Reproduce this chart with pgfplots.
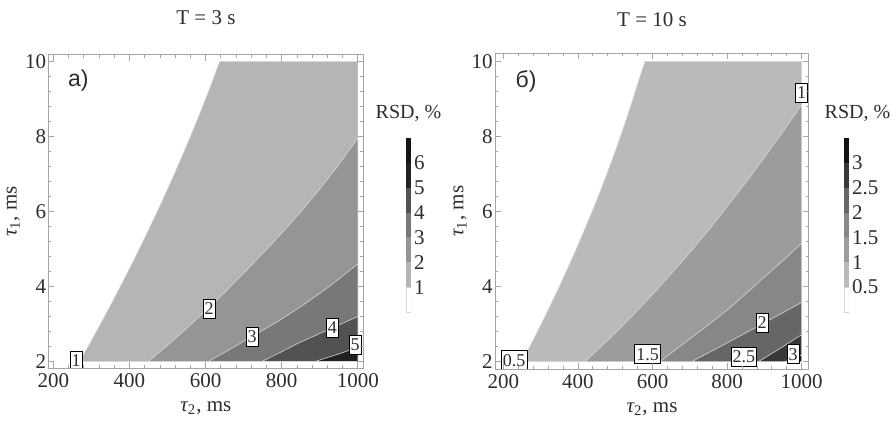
\documentclass[border=0pt]{standalone}
\usepackage{pgfplots}
\pgfplotsset{compat=1.18}
\usepackage{fontspec}
\setmainfont{Liberation Serif}
\newfontfamily\panelfont{Liberation Sans}

\definecolor{txt}{RGB}{45,45,45}
\definecolor{frm}{RGB}{165,165,165}
\definecolor{edge}{RGB}{215,215,215}
% T = 3 s levels
\definecolor{a1}{gray}{0.71}
\definecolor{a2}{gray}{0.585}
\definecolor{a3}{gray}{0.47}
\definecolor{a4}{gray}{0.32}
\definecolor{a5}{gray}{0.13}
\definecolor{a6}{gray}{0.08}
% T = 10 s levels
\definecolor{b1}{gray}{0.73}
\definecolor{b2}{gray}{0.61}
\definecolor{b3}{gray}{0.53}
\definecolor{b4}{gray}{0.40}
\definecolor{b5}{gray}{0.22}
\definecolor{b6}{gray}{0.08}

\tikzset{
  lbl/.style={draw=black, line width=0.4pt, fill=white, inner xsep=0.8pt,
    inner ysep=1.8pt, font=\fontsize{9}{10}\selectfont, text=txt},
}

\pgfplotsset{
  rsdframe/.style={
    scale only axis, anchor=south west,
    xtick={200,400,...,1000}, ytick={2,4,...,10},
    minor x tick num=4, minor y tick num=4,
    tick align=inside, major tick length=3pt, minor tick length=1.5pt,
    every tick/.style={frm, line width=0.4pt},
    axis line style={frm, line width=0.5pt},
    tick label style={font=\fontsize{10.5}{12}\selectfont, text=txt},
    /pgf/number format/assume math mode=true,
    /pgf/number format/set thousands separator={},
    yticklabel style={inner xsep=1pt},
    xticklabel style={inner ysep=2.5pt},
    xlabel={{\itshape τ}\textsubscript{2}, ms},
    ylabel={{\itshape τ}\textsubscript{1}, ms},
    every axis title/.style={at={(0.5,1.118)}, anchor=center,
      font=\fontsize{10.5}{12}\selectfont, text=txt},
    every axis x label/.style={at={(0.5,0)}, anchor=center, yshift=-20pt,
      font=\fontsize{10.5}{12}\selectfont, text=txt},
    every axis y label/.style={at={(0,0.5)}, anchor=center, xshift=-17.5pt,
      rotate=90, font=\fontsize{10.5}{12}\selectfont, text=txt},
    axis on top,
  },
  rsdbar/.style={
    scale only axis, anchor=south west, width=2.5pt, height=87pt,
    xmin=0, xmax=1, xtick=\empty,
    ytick pos=right, yticklabel pos=right, major tick length=0pt,
    axis line style={draw=none},
    tick label style={font=\fontsize{10.5}{12}\selectfont, text=txt},
    /pgf/number format/assume math mode=true,
    yticklabel style={inner xsep=1.3pt},
    title={RSD, \%},
    every axis title/.style={at={(0.5,1)}, anchor=center, yshift=12.5pt,
      font=\fontsize{10}{12}\selectfont, text=txt},
  },
  lvl/.style={fill=#1, draw=edge, line width=0.3pt},
}

\begin{document}
\begin{tikzpicture}
\path[use as bounding box] (0,0) rectangle (448pt,212pt);

% ---------- a) T = 3 s ----------
\begin{axis}[rsdframe, at={(24.2pt,27.9pt)}, width=157.5pt, height=156.7pt,
  xmin=186.9, xmax=1014.7, ymin=1.82, ymax=10.18, title={T = 3 s}]
\addplot[lvl=a1] coordinates {(269,2) (296.7,2.5) (323.8,3) (350.2,3.5) (376,4)
  (401.2,4.5) (425.8,5) (449.7,5.5) (473,6) (495.7,6.5) (517.8,7) (539.2,7.5)
  (560,8) (580.2,8.5) (599.8,9) (618.7,9.5) (637,10) (1000,10) (1000,2)} -- cycle;
\addplot[lvl=a2] coordinates {(450,2) (500,2.43) (550,2.88) (600,3.35) (650,3.84)
  (700,4.35) (750,4.88) (800,5.42) (850,5.99) (900,6.6) (950,7.25) (1000,7.96)
  (1000,2)} -- cycle;
\addplot[lvl=a3] coordinates {(607,2) (660,2.3) (721,2.66) (790,3.07) (853,3.48)
  (925,4.0) (1000,4.6) (1000,2)} -- cycle;
\addplot[lvl=a4] coordinates {(748,2) (800,2.26) (844,2.49) (890,2.7) (932,2.89)
  (1000,3.2) (1000,2)} -- cycle;
\addplot[lvl=a5] coordinates {(888,2) (950,2.2) (1000,2.38) (1000,2)} -- cycle;
\node[lbl] at (axis cs:260,2.02) {1};
\node[lbl] at (axis cs:609,3.4) {2};
\node[lbl] at (axis cs:722,2.66) {3};
\node[lbl] at (axis cs:933,2.9) {4};
\node[lbl] at (axis cs:993,2.45) {5};
\node[font=\panelfont\fontsize{11.5}{12}\selectfont, text=txt]
  at (rel axis cs:0,1) [xshift=15pt, yshift=-13pt] {a)};
\end{axis}

\begin{axis}[rsdbar, at={(203pt,56pt)}, ymin=0, ymax=7, ytick={1,...,6}]
\addplot[fill=white, draw=edge, line width=0.4pt] coordinates {(0,0) (1,0) (1,1) (0,1)} -- cycle;
\addplot[fill=a1, draw=none] coordinates {(0,1) (1,1) (1,2) (0,2)} -- cycle;
\addplot[fill=a2, draw=none] coordinates {(0,2) (1,2) (1,3) (0,3)} -- cycle;
\addplot[fill=a3, draw=none] coordinates {(0,3) (1,3) (1,4) (0,4)} -- cycle;
\addplot[fill=a4, draw=none] coordinates {(0,4) (1,4) (1,5) (0,5)} -- cycle;
\addplot[fill=a5, draw=none] coordinates {(0,5) (1,5) (1,6) (0,6)} -- cycle;
\addplot[fill=a6, draw=none] coordinates {(0,6) (1,6) (1,7) (0,7)} -- cycle;
\end{axis}

% ---------- б) T = 10 s ----------
\begin{axis}[rsdframe, at={(247.5pt,27.4pt)}, width=157pt, height=158pt,
  xmin=177.7, xmax=1019.6, ymin=1.80, ymax=10.22, title={T = 10 s},
  every axis title/.append style={at={(0.5,1.105)}}]
\addplot[lvl=b1] coordinates {(250,2) (276.1,2.5) (301.5,3) (326.1,3.5) (350,4)
  (373.1,4.5) (395.5,5) (417.1,5.5) (438,6) (458.1,6.5) (477.5,7) (496.1,7.5)
  (514,8) (531.1,8.5) (547.5,9) (563.1,9.5) (580,10) (1000,10) (1000,2)} -- cycle;
\addplot[lvl=b2] coordinates {(419,2) (450,2.29) (500,2.76) (550,3.26) (600,3.79)
  (650,4.34) (700,4.91) (750,5.5) (800,6.13) (850,6.77) (900,7.44) (950,8.13)
  (1000,8.85) (1000,2)} -- cycle;
\addplot[lvl=b3] coordinates {(620,2) (670,2.38) (715,2.72) (765,3.1) (812,3.47)
  (860,3.9) (905,4.3) (955,4.74) (1000,5.16) (1000,2)} -- cycle;
\addplot[lvl=b4] coordinates {(705,2) (800,2.5) (897,3.02) (1000,3.58) (1000,2)} -- cycle;
\addplot[lvl=b5] coordinates {(884,2) (940,2.34) (1000,2.72) (1000,2)} -- cycle;
\addplot[lvl=b6] coordinates {(955,2) (1000,2.18) (1000,2)} -- cycle;
\node[lbl] at (axis cs:229,2.04) {0.5};
\node[lbl] at (axis cs:587,2.2) {1.5};
\node[lbl] at (axis cs:845,2.13) {2.5};
\node[lbl] at (axis cs:977,2.2) {3};
\node[lbl] at (axis cs:894,3.03) {2};
\node[lbl] at (axis cs:1000,9.16) {1};
\node[font=\panelfont\fontsize{11.5}{12}\selectfont, text=txt]
  at (rel axis cs:0,1) [xshift=15.5pt, yshift=-14pt] {б)};
\end{axis}

\begin{axis}[rsdbar, at={(422pt,56pt)}, ymin=0, ymax=3.5, ytick={0.5,1,...,3},
  every axis title/.append style={xshift=5.5pt}]
\addplot[fill=white, draw=edge, line width=0.4pt] coordinates {(0,0) (1,0) (1,0.5) (0,0.5)} -- cycle;
\addplot[fill=b1, draw=none] coordinates {(0,0.5) (1,0.5) (1,1) (0,1)} -- cycle;
\addplot[fill=b2, draw=none] coordinates {(0,1) (1,1) (1,1.5) (0,1.5)} -- cycle;
\addplot[fill=b3, draw=none] coordinates {(0,1.5) (1,1.5) (1,2) (0,2)} -- cycle;
\addplot[fill=b4, draw=none] coordinates {(0,2) (1,2) (1,2.5) (0,2.5)} -- cycle;
\addplot[fill=b5, draw=none] coordinates {(0,2.5) (1,2.5) (1,3) (0,3)} -- cycle;
\addplot[fill=b6, draw=none] coordinates {(0,3) (1,3) (1,3.5) (0,3.5)} -- cycle;
\end{axis}
\end{tikzpicture}
\end{document}
